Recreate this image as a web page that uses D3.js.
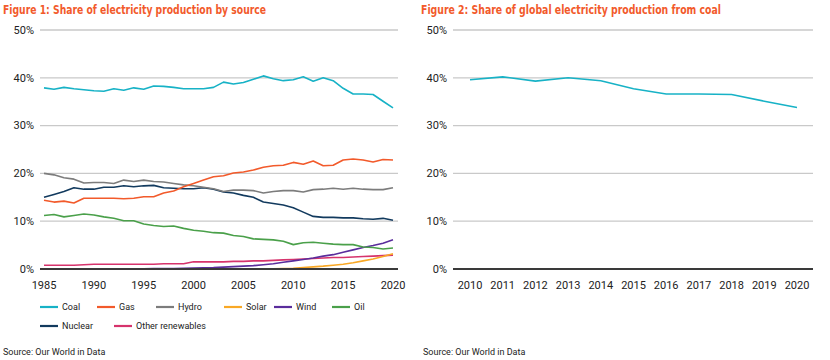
<!DOCTYPE html>
<html><head><meta charset="utf-8">
<script src="https://cdn.jsdelivr.net/npm/d3@7/dist/d3.min.js"></script>
<style>
body{margin:0;background:#fff;}
svg text{font-family:Roboto,"Noto Sans",sans-serif;}
</style></head>
<body><svg id="c" width="830" height="360"></svg>
<script>
const years = d3.range(1985, 2021);
const coal = [37.9,37.6,38.0,37.7,37.5,37.3,37.2,37.7,37.4,37.9,37.6,38.3,38.2,38.0,37.7,37.7,37.7,38.0,39.1,38.7,39.0,39.7,40.4,39.8,39.4,39.6,40.2,39.3,40.0,39.4,37.8,36.6,36.6,36.5,35.1,33.7];
const gas = [14.4,14.0,14.2,13.8,14.8,14.8,14.8,14.8,14.7,14.8,15.1,15.1,15.9,16.3,17.2,17.9,18.6,19.3,19.5,20.1,20.3,20.7,21.3,21.6,21.7,22.3,21.9,22.6,21.6,21.7,22.8,23.0,22.8,22.4,22.9,22.8];
const hydro = [20.0,19.7,19.1,18.8,18.0,18.1,18.1,17.9,18.6,18.3,18.6,18.3,18.2,17.9,17.6,17.4,17.1,16.8,16.2,16.5,16.5,16.4,15.9,16.2,16.4,16.4,16.1,16.6,16.7,16.9,16.7,16.9,16.7,16.6,16.6,17.0];
const solar = [0,0,0,0,0,0,0,0,0,0,0,0,0,0,0,0,0,0,0,0,0.01,0.02,0.03,0.05,0.1,0.15,0.3,0.45,0.6,0.8,1.0,1.3,1.7,2.1,2.6,3.2];
const wind = [0,0,0,0.01,0.02,0.02,0.03,0.03,0.04,0.05,0.06,0.07,0.09,0.1,0.14,0.2,0.25,0.3,0.4,0.5,0.6,0.7,0.9,1.1,1.4,1.7,2.0,2.3,2.7,3.0,3.5,4.0,4.5,4.9,5.4,6.1];
const oil = [11.2,11.4,10.9,11.2,11.5,11.3,10.9,10.6,10.1,10.1,9.4,9.1,8.9,9.0,8.5,8.1,7.9,7.6,7.5,7.0,6.8,6.3,6.2,6.1,5.8,5.1,5.5,5.6,5.4,5.2,5.1,5.1,4.6,4.5,4.2,4.4];
const nuclear = [15.0,15.6,16.2,17.0,16.7,16.7,17.1,17.1,17.4,17.2,17.4,17.5,17.0,16.9,16.8,16.8,17.0,16.7,16.1,15.9,15.4,15.0,14.0,13.7,13.4,12.8,11.9,11.0,10.8,10.8,10.7,10.7,10.5,10.4,10.6,10.2];
const otherRenewables = [0.8,0.8,0.8,0.8,0.9,1.0,1.0,1.0,1.0,1.0,1.0,1.0,1.1,1.1,1.1,1.5,1.5,1.5,1.5,1.6,1.6,1.7,1.7,1.8,1.9,2.0,2.1,2.2,2.3,2.4,2.4,2.5,2.6,2.7,2.8,2.9];

const coalYears = d3.range(2010, 2021);
const coalShare = [39.6,40.2,39.3,40.0,39.4,37.7,36.6,36.6,36.5,35.1,33.8];

const yTicks = [0,10,20,30,40,50];
const xTicksLeft = [1985,1990,1995,2000,2005,2010,2015,2020];
const seriesNames = ["Coal","Gas","Hydro","Solar","Wind","Oil","Nuclear","Other renewables"];
const seriesData = [coal,gas,hydro,solar,wind,oil,nuclear,otherRenewables];
const seriesColors = ["#17b2c6","#f25a2b","#7c7c7c","#f9a825","#5a2d9c","#4aa04a","#123a5e","#d6336c"];
const drawOrder = [7,3,4,5,6,2,1,0];

const svg = d3.select("#c");
const titleColor = "#f25a2b";
const yScale = d3.scaleLinear().domain([0,50]).range([269,30]);

function panel(x0, x1, gx0, gx1, xScale, xTicks, title, tx, tlen, srcX){
  const g = svg.append("g");
  g.append("text").attr("x",tx).attr("y",14).attr("fill",titleColor)
    .attr("font-weight","bold").attr("font-size",13)
    .style("font-family","'Liberation Sans Narrow','DejaVu Sans Condensed',sans-serif")
    .attr("textLength",tlen).attr("lengthAdjust","spacingAndGlyphs").text(title);
  yTicks.forEach(t=>{
    if(t>0) g.append("line").attr("x1",gx0).attr("x2",gx1).attr("y1",yScale(t)).attr("y2",yScale(t))
      .attr("stroke","#c9c9c9").attr("stroke-width",1.3);
    g.append("text").attr("x",gx0-6).attr("y",yScale(t)).attr("dy","0.35em")
      .attr("text-anchor","end").attr("font-size",11).attr("fill","#222").text(t+"%");
  });
  xTicks.forEach(t=>{
    g.append("text").attr("x",xScale(t)).attr("y",285).attr("dy","0.35em")
      .attr("text-anchor","middle").attr("font-size",11).attr("fill","#222").text(t);
  });
  g.append("text").attr("x",srcX).attr("y",352).attr("dy","0.35em")
    .attr("font-size",9).attr("fill","#222").text("Source: Our World in Data");
  return g;
}

// Left panel
const xL = d3.scaleLinear().domain([1985,2020]).range([44,393]);
const gL = panel(44,393,40,398,xL,xTicksLeft,"Figure 1: Share of electricity production by source",3,263,3);
const lineL = d3.line().x((d,i)=>xL(years[i])).y(d=>yScale(d));
drawOrder.forEach(k=>{
  gL.append("path").datum(seriesData[k]).attr("d",lineL).attr("fill","none")
    .attr("stroke",seriesColors[k]).attr("stroke-width",1.6).attr("stroke-linejoin","round");
});
gL.append("line").attr("x1",40).attr("x2",398).attr("y1",yScale(0)).attr("y2",yScale(0))
  .attr("stroke","#3a3a3a").attr("stroke-width",2.2);

// Legend
const legendPos = [[40,307],[97,307],[156,307],[224,307],[274,307],[332,307],[40,326],[114,326]];
seriesNames.forEach((n,i)=>{
  const [lx,ly]=legendPos[i];
  gL.append("line").attr("x1",lx).attr("x2",lx+18).attr("y1",ly).attr("y2",ly)
    .attr("stroke",seriesColors[i]).attr("stroke-width",2.2);
  gL.append("text").attr("x",lx+22).attr("y",ly).attr("dy","0.35em")
    .attr("font-size",9).attr("fill","#222").text(n);
});

// Right panel
const xR = d3.scaleLinear().domain([2010,2020]).range([470,797]);
const gR = panel(470,797,453,813,xR,coalYears,"Figure 2: Share of global electricity production from coal",421,300,423);
gR.append("path").datum(coalShare)
  .attr("d",d3.line().x((d,i)=>xR(coalYears[i])).y(d=>yScale(d)))
  .attr("fill","none").attr("stroke",seriesColors[0]).attr("stroke-width",1.6);
gR.append("line").attr("x1",453).attr("x2",813).attr("y1",yScale(0)).attr("y2",yScale(0))
  .attr("stroke","#3a3a3a").attr("stroke-width",2.2);
</script></body></html>
